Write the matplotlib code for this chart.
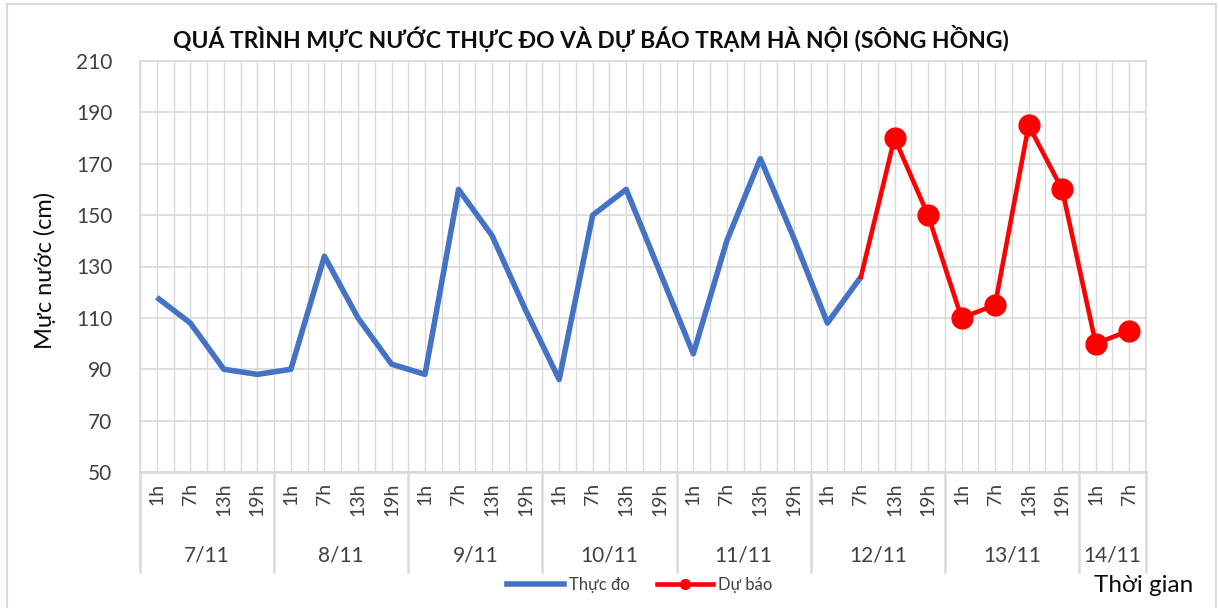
import matplotlib
matplotlib.use("Agg")
import matplotlib.pyplot as plt
import matplotlib.transforms as mtransforms
from matplotlib.lines import Line2D

plt.rcParams['font.family'] = ['Lato', 'DejaVu Sans']

# ---------------- data ----------------
days = ["7/11", "8/11", "9/11", "10/11", "11/11", "12/11", "13/11", "14/11"]
hours_per_day = [["1h", "7h", "13h", "19h"]] * 7 + [["1h", "7h"]]
measured = [118, 108, 90, 88,
            90, 134, 110, 92,
            88, 160, 142, 113,
            86, 150, 160, 128,
            96, 140, 172, 141,
            108, 126]
forecast_start = 21
forecast = [126, 180, 150, 110, 115, 185, 160, 100, 105]
y_ticks = [50, 70, 90, 110, 130, 150, 170, 190, 210]

title = "QUÁ TRÌNH MỰC NƯỚC THỰC ĐO VÀ DỰ BÁO TRẠM HÀ NỘI (SÔNG HỒNG)"
ylabel = "Mực nước (cm)"
xlabel = "Thời gian"
legend_labels = ["Thực đo", "Dự báo"]

# ---------------- figure ----------------
W, H = 1219, 608
fig = plt.figure(figsize=(W / 100, H / 100), dpi=100)

def fx(px):
    return px / W

def fy(py):
    return 1 - py / H

left, right, top, bottom = 140, 1146, 61, 472
ax = fig.add_axes([fx(left), fy(bottom), fx(right) - fx(left), fy(top) - fy(bottom)])

hour_labels = [h for hs in hours_per_day for h in hs]
n = len(hour_labels)
xs = list(range(n))

grid_c = "#d9d9d9"
txt_c = "#404040"
ax.set_xlim(-0.5, n - 0.5)
ax.set_ylim(y_ticks[0], y_ticks[-1])
ax.set_yticks(y_ticks)
ax.set_xticks([])
for v in y_ticks:
    ax.axhline(v, color=grid_c, lw=1.2, zorder=0)
k = -0.5
while k <= n - 0.5 + 1e-9:
    ax.axvline(k, color=grid_c, lw=1.0, zorder=0)
    k += 0.5
for s in ax.spines.values():
    s.set_color(grid_c)
    s.set_linewidth(1.2)
ax.spines['bottom'].set_linewidth(1.8)
ax.tick_params(axis='y', length=0, labelsize=15, colors=txt_c, pad=20)

blue = "#4472C4"
red = "#FF0000"
ax.plot(xs[:len(measured)], measured, color=blue, lw=4.0, solid_capstyle='butt', zorder=3)
fxs = list(range(forecast_start, forecast_start + len(forecast)))
ax.plot(fxs, forecast, color=red, lw=3.3, marker='o', markersize=15,
        markevery=list(range(1, len(forecast))), zorder=4)

# category labels
trans = mtransforms.blended_transform_factory(ax.transData, fig.transFigure)
for i, h in enumerate(hour_labels):
    ax.text(i, fy(483), h, rotation=90, ha='center', va='top', fontsize=14,
            color=txt_c, transform=trans, clip_on=False)
pos = 0
bounds = [-0.5]
for d, hs in zip(days, hours_per_day):
    c = pos + (len(hs) - 1) / 2
    ax.text(c, fy(556), d, ha='center', va='center', fontsize=15,
            color=txt_c, transform=trans, clip_on=False)
    pos += len(hs)
    bounds.append(pos - 0.5)
for b in bounds:
    ax.add_line(Line2D([b, b], [fy(bottom), fy(572)], color=grid_c, lw=1.8,
                       transform=trans, clip_on=False))

# texts
fig.text(fx(591), fy(38), title, ha='center', va='center', fontsize=16.5,
         fontweight='bold', color="#0d0d0d")
fig.text(fx(45), fy(270), ylabel, rotation=90, ha='center', va='center',
         fontsize=17, color="#0d0d0d")
fig.text(fx(1144), fy(585), xlabel, ha='center', va='center', fontsize=17.5,
         color="#0d0d0d")

handles = [Line2D([], [], color=blue, lw=4.0),
           Line2D([], [], color=red, lw=3.3, marker='o', markersize=7)]
fig.legend(handles, legend_labels, loc='center', bbox_to_anchor=(fx(640), fy(585)),
           ncol=2, frameon=False, fontsize=12, handlelength=3.4,
           handletextpad=0.3, columnspacing=1.6, labelcolor=txt_c)

# outer chart border
for seg in [([fx(7), fx(7)], [0, fy(4)]), ([fx(7), fx(1216)], [fy(4), fy(4)]),
            ([fx(1216), fx(1216)], [fy(4), 0])]:
    fig.add_artist(Line2D(seg[0], seg[1], color=grid_c, lw=1.5, transform=fig.transFigure))

fig.savefig("out.png", dpi=100)
